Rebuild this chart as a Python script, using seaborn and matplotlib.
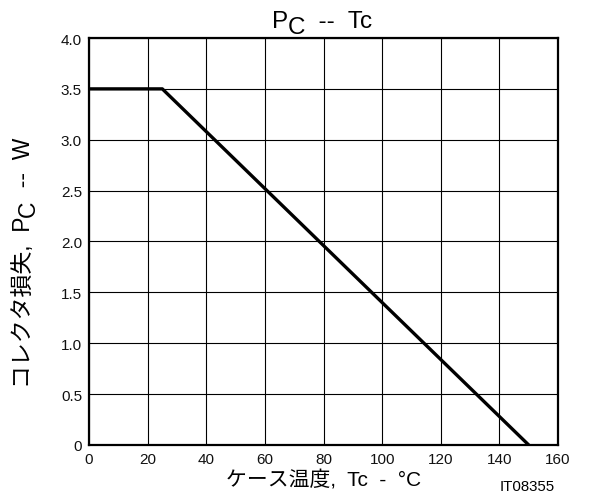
import matplotlib
matplotlib.use('Agg')
import numpy as np
import pandas as pd
import seaborn as sns
import matplotlib.pyplot as plt

case_temp = [0, 25, 150]
collector_loss = [3.5, 3.5, 0.0]
x_ticks = [0, 20, 40, 60, 80, 100, 120, 140, 160]
y_ticks = [0, 0.5, 1.0, 1.5, 2.0, 2.5, 3.0, 3.5, 4.0]
y_tick_labels = ['0', '0.5', '1.0', '1.5', '2.0', '2.5', '3.0', '3.5', '4.0']

FONTS = ['Liberation Sans', 'Noto Sans CJK JP', 'DejaVu Sans']


def sub_label(fig, base, sub, rest, size, x, y, rotation=0, drop=4):
	# text with a full-size, lowered subscript (e.g. "P" + "C")
	if rotation == 0:
		t1 = fig.text(x, y, base, fontsize=size, ha='left', va='baseline')
		t2 = fig.add_artist(plt.Annotation(sub, xy=(1, 0), xycoords=t1,
			xytext=(0, -drop), textcoords='offset points',
			fontsize=size, ha='left', va='bottom'))
		t3 = fig.add_artist(plt.Annotation(rest, xy=(1, 0), xycoords=(t2, t1),
			fontsize=size, ha='left', va='bottom'))
	else:
		t1 = fig.text(x, y, base, fontsize=size, rotation=90, ha='center', va='bottom')
		t2 = fig.add_artist(plt.Annotation(sub, xy=(1, 1), xycoords=t1,
			xytext=(drop, 0), textcoords='offset points',
			fontsize=size, rotation=90, ha='right', va='bottom'))
		t3 = fig.add_artist(plt.Annotation(rest, xy=(1, 1), xycoords=(t1, t2),
			fontsize=size, rotation=90, ha='right', va='bottom'))
	return t1, t2, t3


def recenter(fig, parts, cx=None, cy=None):
	fig.canvas.draw()
	r = fig.canvas.get_renderer()
	boxes = [p.get_window_extent(r) for p in parts]
	x0 = min(b.x0 for b in boxes); x1 = max(b.x1 for b in boxes)
	y0 = min(b.y0 for b in boxes); y1 = max(b.y1 for b in boxes)
	W, H = fig.bbox.width, fig.bbox.height
	px, py = parts[0].get_position()
	if cx is not None:
		px += (cx - (x0 + x1) / 2) / W
	if cy is not None:
		py += (cy - (y0 + y1) / 2) / H
	parts[0].set_position((px, py))


def create_graph(output_graph):
	sns.set_style('white')
	plt.rcParams['font.family'] = FONTS
	plt.rcParams['text.color'] = 'black'

	df = pd.DataFrame({'Tc': case_temp, 'Pc': collector_loss})

	fig = plt.figure(figsize=(6.08, 5.02), dpi=100)
	ax = fig.add_axes([0.1464, 0.1116, 0.7714, 0.8107])
	sns.lineplot(data=df, x='Tc', y='Pc', ax=ax, color='black', linewidth=2.4, zorder=3)

	ax.set_xlim(0, 160)
	ax.set_ylim(0, 4.0)
	ax.set_xticks(x_ticks)
	ax.set_yticks(y_ticks)
	ax.set_yticklabels(y_tick_labels)
	ax.tick_params(length=0, labelsize=11, pad=5, colors='#111111')
	ax.grid(True, color='black', linewidth=0.8)
	for s in ax.spines.values():
		s.set_color('black')
		s.set_linewidth(1.6)
	ax.set_xlabel('')
	ax.set_ylabel('')

	# title: P_C -- Tc
	title = sub_label(fig, 'P', 'C', '  --  Tc', 17.5, 0.44, 1 - 28 / 502, drop=4)
	# y label
	ylab = sub_label(fig, 'コレクタ損失,  P', 'C', '  --  W', 16.5, 25 / 608, 0.2,
		rotation=90, drop=4)
	# x label
	fig.text(324 / 608, 1 - 480 / 502, 'ケース温度,  Tc  -  °C', fontsize=15,
		ha='center', va='center')
	fig.text(555 / 608, 1 - 487 / 502, 'IT08355', ha='right', va='center', fontsize=10.8)

	recenter(fig, title, cx=322)
	recenter(fig, ylab, cx=26, cy=502 - 263)

	plt.savefig(output_graph, dpi=100)


create_graph('out.png')
